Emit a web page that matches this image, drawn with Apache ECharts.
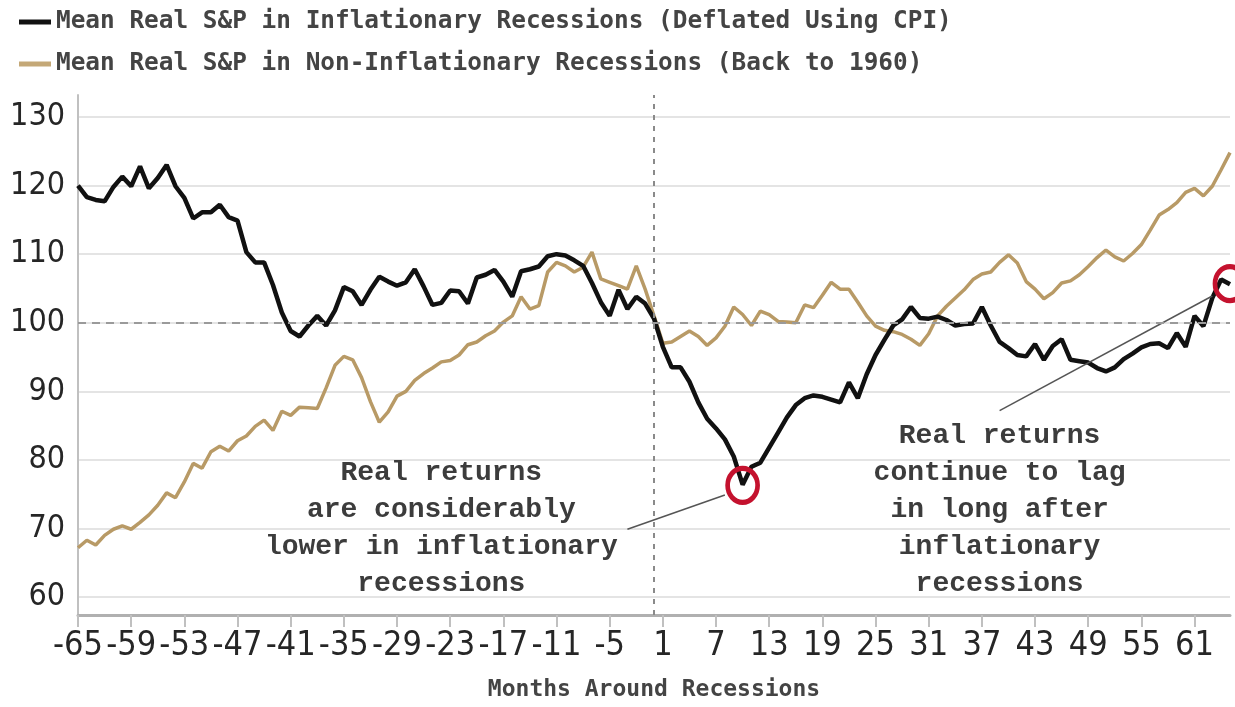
<!DOCTYPE html>
<html>
<head>
<meta charset="utf-8">
<script src="https://cdn.jsdelivr.net/npm/echarts@6/dist/echarts.min.js"></script>
<style>
  html, body { margin: 0; padding: 0; background: #ffffff; }
  #chart { width: 1235px; height: 707px; }
</style>
</head>
<body>
<div id="chart"></div>
<script>
// Months around recessions (x categories)
const months = [
  -65,-64,-63,-62,-61,-60,-59,-58,-57,-56,-55,-54,-53,-52,-51,-50,-49,-48,-47,-46,
  -45,-44,-43,-42,-41,-40,-39,-38,-37,-36,-35,-34,-33,-32,-31,-30,-29,-28,-27,-26,
  -25,-24,-23,-22,-21,-20,-19,-18,-17,-16,-15,-14,-13,-12,-11,-10,-9,-8,-7,-6,
  -5,-4,-3,-2,-1,0,1,2,3,4,5,6,7,8,9,10,11,12,13,14,
  15,16,17,18,19,20,21,22,23,24,25,26,27,28,29,30,31,32,33,34,
  35,36,37,38,39,40,41,42,43,44,45,46,47,48,49,50,51,52,53,54,
  55,56,57,58,59,60,61,62,63,64,65
];

// Mean Real S&P in Inflationary Recessions (Deflated Using CPI)
const inflationary = [
  120,118.3,117.9,117.7,119.8,121.3,119.9,122.8,119.6,121.1,123,119.9,118.2,115.2,116.1,116.1,117.2,115.4,114.9,110.3,
  108.8,108.8,105.5,101.5,98.8,98,99.6,101,99.6,101.8,105.2,104.6,102.6,104.8,106.7,106,105.4,105.9,107.8,105.3,
  102.6,102.9,104.7,104.6,102.8,106.6,107,107.7,106,103.8,107.5,107.8,108.2,109.7,110,109.8,109.1,108.3,105.8,103,
  101,104.8,102,103.8,102.8,100.6,96.5,93.5,93.5,91.4,88.4,86,84.6,83,80.5,76.4,79,79.6,81.8,84,
  86.2,88,89,89.4,89.2,88.8,88.4,91.3,89,92.5,95.3,97.5,99.6,100.5,102.3,100.7,100.6,100.9,100.4,99.6,
  99.8,99.9,102.3,99.6,97.2,96.3,95.3,95.1,96.9,94.6,96.6,97.6,94.6,94.4,94.2,93.4,92.9,93.5,94.7,95.5,
  96.4,96.9,97,96.3,98.5,96.5,101,99.5,103.6,106.3,105.6
];

// Mean Real S&P in Non-Inflationary Recessions (Back to 1960)
const nonInflationary = [
  67.2,68.3,67.6,69,69.9,70.4,69.9,70.9,72,73.4,75.2,74.5,76.8,79.5,78.8,81.2,82,81.3,82.8,83.5,
  84.9,85.8,84.3,87.1,86.5,87.7,87.6,87.5,90.5,93.8,95.1,94.6,92,88.5,85.5,87,89.3,90,91.6,92.6,
  93.4,94.3,94.5,95.3,96.8,97.2,98.1,98.8,100.1,101,103.8,102,102.5,107.4,108.8,108.3,107.4,108.1,110.3,106.4,
  105.9,105.4,104.9,108.3,104.9,101,97,97.2,98,98.8,98,96.7,97.8,99.5,102.3,101.2,99.6,101.7,101.2,100.2,
  100.1,100,102.6,102.2,104,105.9,104.9,104.9,103,101,99.5,98.9,98.7,98.3,97.6,96.7,98.4,101,102.4,103.6,
  104.8,106.3,107.1,107.4,108.8,109.9,108.7,106,104.9,103.5,104.4,105.8,106.1,107,108.2,109.5,110.6,109.6,109,110.1,
  111.4,113.5,115.7,116.5,117.5,119,119.6,118.5,119.9,122.3,124.8
];

const seriesNames = [
  'Mean Real S&P in Inflationary Recessions (Deflated Using CPI)',
  'Mean Real S&P in Non-Inflationary Recessions (Back to 1960)'
];
const axisTitle = 'Months Around Recessions';
const note1 = ['Real returns', 'are considerably', 'lower in inflationary', 'recessions'];
const note2 = ['Real returns', 'continue to lag', 'in long after', 'inflationary', 'recessions'];

const monoFont = "'DejaVu Sans Mono', 'Liberation Mono', monospace";
const noteFont = "'Liberation Mono', 'DejaVu Sans Mono', monospace";
const tickFont = "'Liberation Sans Narrow', 'DejaVu Sans Condensed', 'Liberation Sans', sans-serif";

const chart = echarts.init(document.getElementById('chart'), null, { renderer: 'canvas' });

const noteLabel = {
  show: true,
  position: 'inside',
  fontFamily: noteFont,
  fontWeight: 'bold',
  fontSize: 28,
  lineHeight: 37,
  color: '#3c3c3c',
  align: 'center',
  verticalAlign: 'middle'
};

chart.setOption({
  animation: false,
  backgroundColor: '#ffffff',
  legend: {
    orient: 'vertical',
    left: 14,
    top: 5,
    itemWidth: 32,
    itemHeight: 5,
    itemGap: 18,
    icon: 'rect',
    selectedMode: false,
    data: seriesNames,
    textStyle: { fontFamily: monoFont, fontWeight: 'bold', fontSize: 24.4, color: '#444444', lineHeight: 24 }
  },
  grid: { left: 78, right: 5, top: 95, bottom: 89, containLabel: false },
  xAxis: {
    type: 'category',
    data: months.map(String),
    boundaryGap: false,
    name: axisTitle,
    nameLocation: 'middle',
    nameGap: 64,
    nameTextStyle: { fontFamily: monoFont, fontWeight: 'bold', fontSize: 23, color: '#444444' },
    axisLine: { lineStyle: { color: '#b0b0b0', width: 3 } },
    axisTick: { interval: 5, length: 12, lineStyle: { color: '#c0c0c0', width: 2 } },
    axisLabel: { interval: 5, margin: 14, fontFamily: tickFont, fontSize: 34, color: '#262626' },
    splitLine: { show: false }
  },
  yAxis: {
    type: 'value',
    min: 57.4,
    max: 133.2,
    splitNumber: 8,
    minInterval: 10,
    maxInterval: 10,
    axisLine: { show: true, lineStyle: { color: '#c0c0c0', width: 2 } },
    axisTick: { show: false },
    axisLabel: { margin: 13, fontFamily: tickFont, fontSize: 32, color: '#262626', showMinLabel: false, showMaxLabel: false },
    splitLine: { show: true, showMinLine: false, showMaxLine: false, lineStyle: { color: '#e4e4e4', width: 2 } }
  },
  series: [
    {
      name: seriesNames[0],
      type: 'line',
      data: inflationary,
      symbol: 'none',
      z: 4,
      lineStyle: { color: '#111111', width: 4.5 },
      itemStyle: { color: '#111111' },
      markPoint: {
        silent: true,
        data: [
          { coord: ['10', 76.3], symbol: 'circle', symbolSize: [30, 34],
            itemStyle: { color: 'rgba(255,255,255,0)', borderColor: '#c4122e', borderWidth: 5 }, label: { show: false } },
          { coord: ['65', 105.7], symbol: 'circle', symbolSize: [30, 34],
            itemStyle: { color: 'rgba(255,255,255,0)', borderColor: '#c4122e', borderWidth: 5 }, label: { show: false } },
          { coord: ['-24', 70], symbol: 'circle', symbolSize: 1,
            itemStyle: { color: 'rgba(0,0,0,0)' }, label: Object.assign({ formatter: note1.join('\n') }, noteLabel) },
          { coord: ['39', 72.7], symbol: 'circle', symbolSize: 1,
            itemStyle: { color: 'rgba(0,0,0,0)' }, label: Object.assign({ formatter: note2.join('\n') }, noteLabel) }
        ]
      },
      markLine: {
        silent: true,
        symbol: ['none', 'none'],
        label: { show: false },
        lineStyle: { color: '#555555', width: 1.5, type: 'solid' },
        data: [
          [{ coord: ['-3', 69.9] }, { coord: ['8', 74.9] }],
          [{ coord: ['39', 87.2] }, { coord: ['63', 103.9] }]
        ]
      }
    },
    {
      name: seriesNames[1],
      type: 'line',
      data: nonInflationary,
      symbol: 'none',
      z: 3,
      lineStyle: { color: '#b89a66', width: 3.5 },
      itemStyle: { color: '#c4a877' },
      markLine: {
        silent: true,
        symbol: ['none', 'none'],
        label: { show: false },
        data: [
          { yAxis: 100, lineStyle: { color: '#9a9a9a', width: 2, type: [8, 6] } },
          { xAxis: '0', lineStyle: { color: '#8a8a8a', width: 2, type: [5, 6] } }
        ]
      }
    }
  ]
});
</script>
</body>
</html>
